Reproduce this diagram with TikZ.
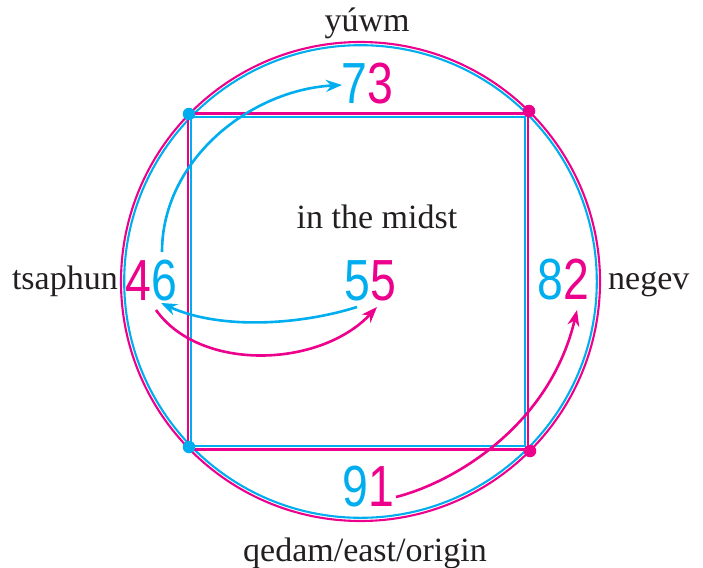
\documentclass[tikz,border=0pt]{standalone}
\usepackage{fontspec}
\setmainfont{Liberation Serif}
\newfontfamily\numfont{Liberation Sans}
\usetikzlibrary{arrows.meta}
\definecolor{pcyan}{RGB}{0,174,239}
\definecolor{pmag}{RGB}{236,0,140}
\definecolor{ink}{RGB}{35,31,32}
\begin{document}
\begin{tikzpicture}[x=1pt,y=-1pt,
  ring/.style={line width=2.1pt},
  lbl/.style={font=\fontsize{34}{40}\selectfont, text=ink, inner sep=0pt, anchor=base},
  num/.style={font=\numfont\fontsize{58}{60}\selectfont, inner sep=0pt, anchor=base},
  arr/.style={line width=2.6pt, -{Stealth[length=16pt,width=12pt]}},
  cdot/.style={circle, fill=pcyan, inner sep=0pt, minimum size=12.5pt},
  mdot/.style={circle, fill=pmag, inner sep=0pt, minimum size=12.5pt}]
\useasboundingbox (0,0) rectangle (703,567);
% circles
\draw[pmag, ring] (360.5,281.5) circle[radius=239.5];
\draw[pcyan, ring] (360.5,281.5) circle[radius=236.3];
% squares
\draw[pmag, ring] (188.3,113.5) rectangle (528,449.5);
\draw[pcyan, ring] (191.2,116.7) rectangle (525,445.8);
% corner dots
\node[cdot] (d1) at (189,114) {};
\node[cdot] (d2) at (189,447) {};
\node[mdot] (d3) at (529,111) {};
\node[mdot] (d4) at (530,451) {};
% numbers
\node[num] (n73) at (367,103) {\scalebox{0.8}[1]{\textcolor{pcyan}{7}\textcolor{pmag}{3}}};
\node[num] (n46) at (151,300) {\scalebox{0.8}[1]{\textcolor{pmag}{4}\textcolor{pcyan}{6}}};
\node[num] (n55) at (370,300) {\scalebox{0.8}[1]{\textcolor{pcyan}{5}\textcolor{pmag}{5}}};
\node[num] (n82) at (563,299) {\scalebox{0.8}[1]{\textcolor{pcyan}{8}\textcolor{pmag}{2}}};
\node[num] (n91) at (368,506) {\scalebox{0.8}[1]{\textcolor{pcyan}{9}\textcolor{pmag}{1}}};
% labels
\node[lbl] (top) at (367,32) {yúwm};
\node[lbl, anchor=base east] (left) at (118,289) {tsaphun};
\node[lbl, anchor=base west] (right) at (608,289) {negev};
\node[lbl] (mid) at (377,228) {in the midst};
\node[lbl] (bot) at (365,561) {qedam/east/origin};
% arrow ends
\coordinate (a1s) at (162,252);
\coordinate (a1e) at (342,85);
\coordinate (a2s) at (357,307);
\coordinate (a2e) at (161,303);
\coordinate (a3s) at (156,310);
\coordinate (a3e) at (377,307);
\coordinate (a4s) at (396,497);
\coordinate (a4e) at (577,310);
% arrows
\draw[pcyan, arr] (a1s) .. controls (162,160) and (250,90) .. (a1e);
\draw[pcyan, arr] (a2s) .. controls (300,325) and (220,330) .. (a2e);
\draw[pmag, arr] (a3s) .. controls (200,372) and (320,368) .. (a3e);
\draw[pmag, arr] (a4s) .. controls (455,482) and (550,425) .. (a4e);
\end{tikzpicture}
\end{document}
